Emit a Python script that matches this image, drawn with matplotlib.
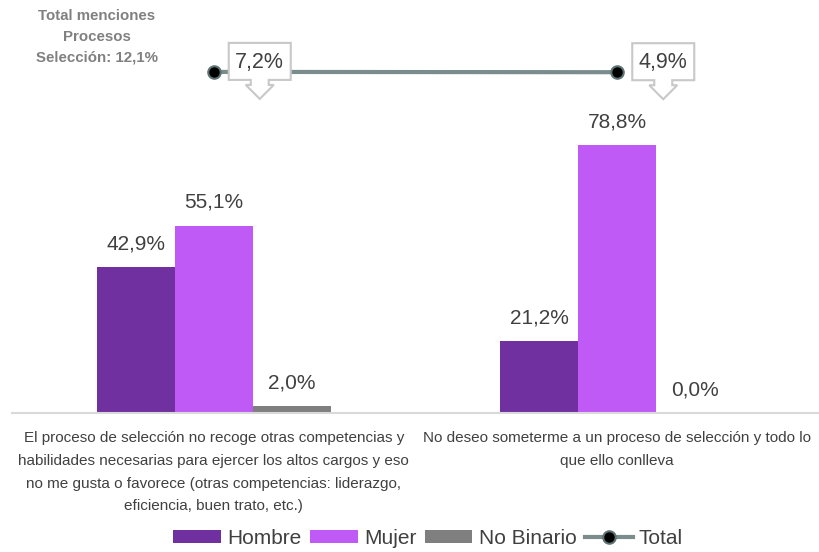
import numpy as np
import matplotlib.pyplot as plt
from matplotlib.patches import Polygon
from matplotlib.transforms import ScaledTranslation
from matplotlib.font_manager import fontManager

categorias = [
    "El proceso de selección no recoge otras competencias y\n"
    "habilidades necesarias para ejercer los altos cargos y eso\n"
    "no me gusta o favorece (otras competencias: liderazgo,\n"
    "eficiencia, buen trato, etc.)",
    "No deseo someterme a un proceso de selección y todo lo\n"
    "que ello conlleva",
]
hombre = [42.9, 21.2]
mujer = [55.1, 78.8]
no_binario = [2.0, 0.0]
total = [7.2, 4.9]
nota_total = "Total menciones\nProcesos\nSelección: 12,1%"

series = [("Hombre", hombre, "#7030A0"),
          ("Mujer", mujer, "#BF5AF7"),
          ("No Binario", no_binario, "#7F7F7F")]

nombres = {f.name for f in fontManager.ttflist}
fuente = ["Liberation Sans Narrow", "Liberation Sans", "DejaVu Sans"]
fuente = [f for f in fuente if f in nombres] or ["DejaVu Sans"]
plt.rcParams['font.family'] = fuente
texto = "#404040"

fig = plt.figure(figsize=(8.19, 5.52), dpi=100)
W, H = 819, 552
# ejes en píxeles: izquierda 12, derecha 819, base 413, techo 39
ax = fig.add_axes([12 / W, (H - 413) / H, 807 / W, 374 / H])

x = np.arange(len(categorias))
ancho = 0.193
for i, (nombre, valores, color) in enumerate(series):
    pos = x + (i - 1) * ancho
    barras = ax.bar(pos, valores, width=ancho, color=color, label=nombre)
    for b, v in zip(barras, valores):
        ax.annotate(f"{v:.1f}%".replace(".", ","),
                    (b.get_x() + b.get_width() / 2, b.get_height()),
                    xytext=(0, 10), textcoords="offset points",
                    ha="center", va="bottom", fontsize=15, color=texto)

ax.set_xlim(-0.5, 1.5)
ax.set_ylim(0, 110)
ax.set_yticks([])
ax.set_xticks(x)
ax.set_xticklabels(categorias, fontsize=11, color=texto, linespacing=1.8)
ax.tick_params(axis="x", length=0, pad=13)
for lado in ["top", "right", "left"]:
    ax.spines[lado].set_visible(False)
ax.spines["bottom"].set_color("#D9D9D9")
ax.spines["bottom"].set_linewidth(1.5)

# línea del total en un eje secundario de gran rango
ax2 = ax.twinx()
span = 3000
bajo = total[0] - 0.912 * span
ax2.set_ylim(bajo, bajo + span)
ax2.axis("off")
linea, = ax2.plot(x, total, color="#7A8C8C", linewidth=3, marker="o",
                  markersize=9, markerfacecolor="black",
                  markeredgecolor="#5E7373", markeredgewidth=1.5,
                  label="Total", zorder=3)

# etiquetas con flecha hacia abajo (píxeles respecto al punto, y hacia abajo)
forma = [(15, -29), (77, -29), (77, 8), (55, 8), (55, 13), (60, 13),
         (46, 27), (32, 13), (37, 13), (37, 8), (15, 8)]
pts = [(px / 100, -py / 100) for px, py in forma]
for xi, v in zip(x, total):
    trans = fig.dpi_scale_trans + ScaledTranslation(xi, v, ax2.transData)
    ax2.add_patch(Polygon(pts, closed=True, facecolor="white",
                          edgecolor="#C8C8C8", linewidth=1.5,
                          transform=trans, clip_on=False, zorder=4))
    ax2.annotate(f"{v:.1f}%".replace(".", ","), (xi, v),
                 xytext=(46 * 0.72, 9.5 * 0.72), textcoords="offset points",
                 ha="center", va="center", fontsize=15.5, color=texto,
                 zorder=5)

fig.text(97 / W, 1 - 9 / H, nota_total, ha="center", va="top",
         fontsize=10.8, fontweight="bold", color="#808080", linespacing=1.6)

manejadores, etiquetas = ax.get_legend_handles_labels()
fig.legend(manejadores + [linea], etiquetas + ["Total"],
           loc="center", bbox_to_anchor=(428 / W, 1 - 538 / H), ncol=4,
           frameon=False, fontsize=15, labelcolor=texto,
           handlelength=2.3, handleheight=0.6, handletextpad=0.3,
           columnspacing=0.4)

fig.savefig("out.png", dpi=100)
